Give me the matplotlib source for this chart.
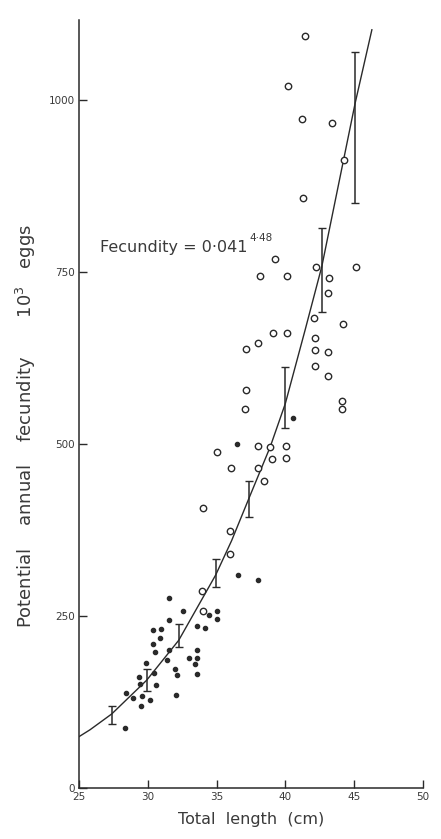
import numpy as np
import matplotlib.pyplot as plt

# fish fecundity vs total length
# filled dots
filled_len = [31.57, 32.54, 31.52, 30.36, 30.96, 30.91, 30.40, 30.55, 31.52, 31.37,
              29.87, 30.45, 29.39, 29.44, 30.60, 28.42, 28.95, 29.56, 30.16, 29.49,
              28.35, 32.00, 32.10, 32.03, 33.55, 34.16, 33.60, 33.02, 33.60, 33.44,
              33.55, 35.01, 35.01, 34.43, 36.59, 38.04, 36.51, 40.59]
filled_fec = [276, 258, 245, 230, 231, 219, 209, 198, 201, 186,
              182, 168, 162, 152, 150, 138, 131, 134, 129, 120,
              87, 174, 165, 135, 236, 233, 201, 190, 190, 181,
              166, 258, 246, 252, 310, 302, 500, 538]

# open circles
open_len = [35.98, 33.92, 34.04, 35.98, 35.06, 36.03, 34.04, 38.00, 38.48, 38.02,
            38.89, 40.05, 40.05, 39.01, 37.09, 37.15, 37.15, 38.02, 39.13, 40.15,
            42.16, 42.16, 43.08, 42.16, 43.13, 44.10, 44.10, 41.44, 40.22, 41.24,
            43.38, 44.27, 41.27, 39.25, 38.16, 40.15, 42.20, 43.20, 43.13, 45.15,
            42.09, 44.18]
open_fec = [340, 286, 257, 374, 489, 466, 407, 466, 446, 497,
            496, 497, 480, 479, 551, 579, 638, 647, 661, 661,
            654, 637, 634, 614, 599, 562, 551, 1093, 1020, 972,
            966, 913, 857, 769, 744, 744, 758, 741, 719, 758,
            683, 674]

# mean +/- range bars per length class
bar_len = [27.38, 29.92, 32.25, 34.94, 37.39, 40.00, 42.65, 45.07]
bar_mid = [106, 157, 222, 312, 421, 567, 753, 960]
bar_lo = [93, 141, 206, 292, 394, 523, 692, 850]
bar_hi = [119, 174, 238, 333, 447, 612, 814, 1070]

# fitted curve
curve_len = [25.0, 25.8, 27.38, 29.92, 32.25, 34.94, 36.1, 37.39, 38.9, 40.0,
             41.44, 42.65, 45.07, 46.29]
curve_fec = [75, 85, 108, 157, 215, 310, 360, 423, 496, 559,
             666, 758, 995, 1102]

ink = '#2a2a2a'
txt = '#3a3a3a'
plt.rcParams['font.family'] = ['DejaVu Sans']

fig = plt.figure(figsize=(4.41, 8.39), dpi=100)
ax = fig.add_axes([0.179, 0.0604, 0.78, 0.9156])

ax.plot(curve_len, curve_fec, color=ink, lw=1.0)
ax.plot(open_len, open_fec, 'o', ms=4.6, mfc='white', mec=ink, mew=1.0, ls='none')
ax.plot(filled_len, filled_fec, 'o', ms=3.0, color=ink, ls='none')

lo_err = np.array(bar_mid) - np.array(bar_lo)
hi_err = np.array(bar_hi) - np.array(bar_mid)
ax.errorbar(bar_len, bar_mid, yerr=[lo_err, hi_err], fmt='none',
            ecolor=ink, elinewidth=1.1, capsize=3, capthick=1.0)

eq = ax.text(26.55, 785, 'Fecundity = 0\u00b7041', fontsize=11.5, color=txt, va='center')
ax.annotate('4\u00b748', xy=(1.0, 0.8), xycoords=eq, xytext=(1.5, 0),
            textcoords='offset points', fontsize=7.5, color=txt,
            ha='left', va='bottom')

ax.set_xlim(25, 50)
ax.set_ylim(0, 1116)
ax.set_xticks([25, 30, 35, 40, 45, 50])
ax.set_yticks([0, 250, 500, 750, 1000])

for s in ['top', 'right']:
    ax.spines[s].set_visible(False)
for s in ['left', 'bottom']:
    ax.spines[s].set_color(ink)
    ax.spines[s].set_linewidth(1.1)

ax.tick_params(direction='in', length=6, width=1.0, colors=ink,
               labelsize=7.5, labelcolor=txt, pad=3)

ax.set_xlabel('Total  length  (cm)', fontsize=11.5, color=txt, labelpad=7)
ax.set_ylabel('Potential    annual    fecundity       10$^3$   eggs',
              fontsize=13, color=txt)
ax.yaxis.set_label_coords(-0.12, 0.472)

fig.savefig('out.png', dpi=100, facecolor='white')
